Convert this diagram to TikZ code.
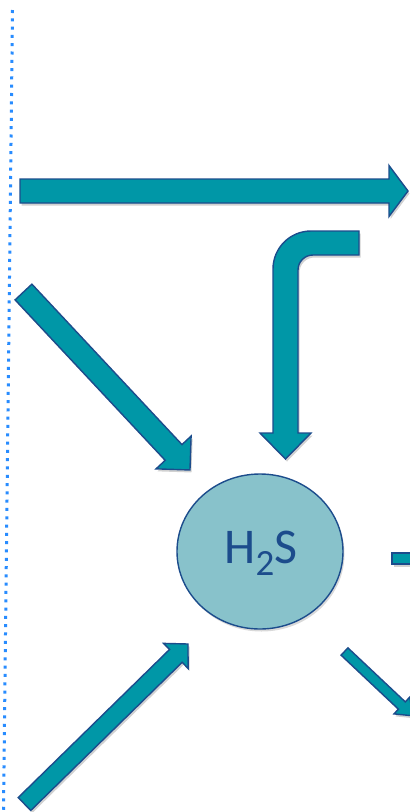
\documentclass[tikz,border=0pt]{standalone}
\usepackage{fontspec}
\setmainfont{Carlito}
\usetikzlibrary{shapes.geometric}
\definecolor{tealA}{RGB}{0,151,167}
\definecolor{edgeA}{RGB}{28,76,140}
\definecolor{circA}{RGB}{136,194,203}
\definecolor{dotsA}{RGB}{40,140,255}
\definecolor{txtA}{RGB}{28,76,140}
\tikzset{
  arrowfill/.style={fill=tealA, draw=edgeA, line width=1.4pt, line join=miter},
  arrowshadow/.style={fill=black, opacity=0.18, draw=none},
}
\newcommand\barr[7]{%
  \pgfmathsetmacro\bang{atan2(-(#4-#2),#3-#1)}%
  \pgfmathsetmacro\blen{veclen(#3-#1,#4-#2)}%
  \pgfmathsetmacro\bbase{\blen-#7}%
  \begin{scope}[shift={(#1+1.5,#2+2.5)},rotate=\bang]
    \fill[arrowshadow] (0,-#5) -- (\bbase,-#5) -- (\bbase,-#6) -- (\blen,0) -- (\bbase,#6) -- (\bbase,#5) -- (0,#5) -- cycle;
  \end{scope}
  \begin{scope}[shift={(#1,#2)},rotate=\bang]
    \draw[arrowfill] (0,-#5) -- (\bbase,-#5) -- (\bbase,-#6) -- (\blen,0) -- (\bbase,#6) -- (\bbase,#5) -- (0,#5) -- cycle;
  \end{scope}}
\begin{document}
\begin{tikzpicture}[x=1pt,y=-1pt]
\clip (0,0) rectangle (410,812);
\fill[white] (0,0) rectangle (410,812);
% dotted divider
\draw[dotsA, line width=3pt, dash pattern=on 3pt off 5.3pt] (12.5,10) -- (3.5,812);
% top horizontal arrow
\barr{20}{191}{408}{191}{12}{25.5}{19}
% upper-left diagonal arrow
\barr{23.5}{292}{190}{470}{11.5}{24}{24}
% lower-left diagonal arrow
\barr{24.5}{804}{188}{644}{9}{17.5}{17}
% lower-right small arrow
\barr{344.5}{651.5}{413}{716}{5}{11.5}{15}
% bent arrow
\fill[arrowshadow, shift={(1.5,2.5)}] (359,231) -- (311,231) .. controls (290,231) and (273,248) .. (273,269) -- (273,433) -- (260,433) -- (285.5,459) -- (311,433) -- (298,433) -- (298,270) .. controls (298,261.7) and (304.7,255) .. (313,255) -- (359,255) -- cycle;
\draw[arrowfill] (359,231) -- (311,231) .. controls (290,231) and (273,248) .. (273,269) -- (273,433) -- (260,433) -- (285.5,459) -- (311,433) -- (298,433) -- (298,270) .. controls (298,261.7) and (304.7,255) .. (313,255) -- (359,255) -- cycle;
% right cut-off arrow
\fill[arrowshadow] (393.5,555.5) rectangle (416,566.5);
\draw[arrowfill] (392,553) rectangle (416,564);
% H2S circle
\fill[black, opacity=0.15] (261.5,554) ellipse [x radius=83, y radius=77.5];
\node[ellipse, draw=edgeA, fill=circA, line width=1.4pt, minimum width=166pt, minimum height=155pt, inner sep=0pt] (h2s) at (260,551.5) {};
\node[text=txtA, anchor=base, inner sep=0pt, font=\fontsize{50}{60}\selectfont] (lbl) at (261,563) {H\raisebox{-12pt}{\fontsize{37}{40}\selectfont 2}S};
\end{tikzpicture}
\end{document}
